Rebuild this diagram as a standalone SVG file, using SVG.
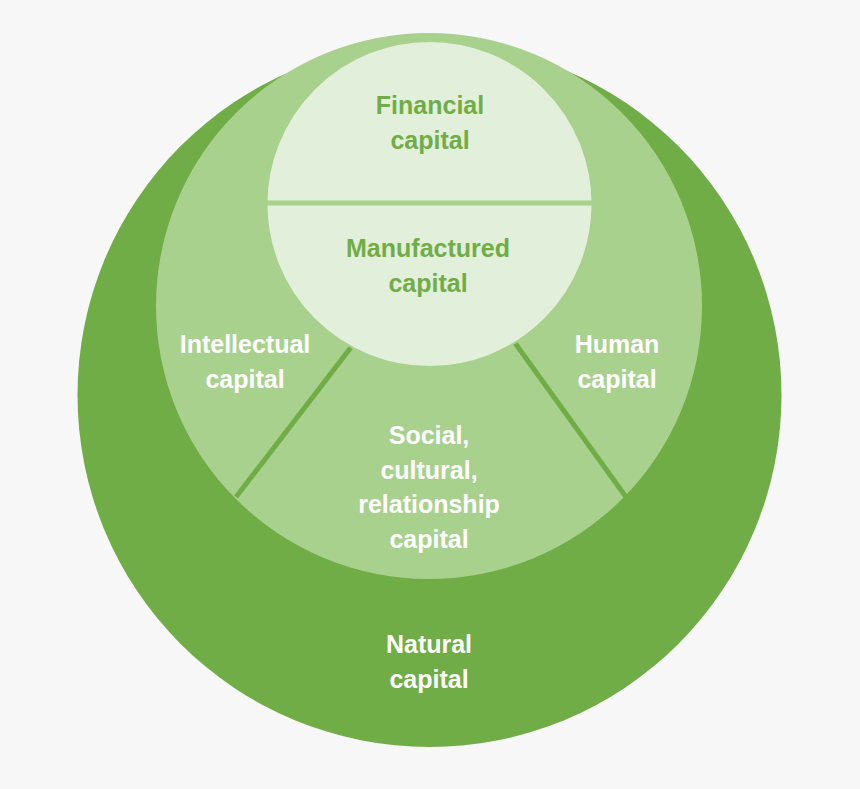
<svg xmlns="http://www.w3.org/2000/svg" width="860" height="789" viewBox="0 0 860 789">
<style>
text{font-family:"Liberation Sans",Arial,sans-serif;font-weight:bold;font-size:25px;text-anchor:middle}
.w{fill:#ffffff}.g{fill:#70ad47}
</style>
<rect width="860" height="789" fill="#f7f7f7"/>
<g id="natural"><circle cx="429.5" cy="395" r="352" fill="#70ad47"/>
<text class="w" x="429" y="653">Natural</text><text class="w" x="429" y="688">capital</text></g>
<g id="middle"><circle cx="429" cy="306" r="273" fill="#a9d18e"/></g>
<g id="connectors" stroke="#70ad47" stroke-width="5">
<line x1="352" y1="346" x2="236" y2="497"/><line x1="515" y1="343" x2="626" y2="497"/></g>
<g id="intellectual"><text class="w" x="245" y="353">Intellectual</text><text class="w" x="245" y="388">capital</text></g>
<g id="human"><text class="w" x="617" y="353">Human</text><text class="w" x="617" y="388">capital</text></g>
<g id="social"><text class="w" x="429" y="444">Social,</text><text class="w" x="429" y="479">cultural,</text><text class="w" x="429" y="513">relationship</text><text class="w" x="429" y="548">capital</text></g>
<g id="inner"><circle cx="429.5" cy="204" r="163" fill="#e2efda" stroke="#a9d18e" stroke-width="2"/>
<line x1="266" y1="203" x2="593" y2="203" stroke="#a9d18e" stroke-width="5"/></g>
<g id="financial"><text class="g" x="430" y="114">Financial</text><text class="g" x="430" y="149">capital</text></g>
<g id="manufactured"><text class="g" x="428" y="257">Manufactured</text><text class="g" x="428" y="292">capital</text></g>
</svg>
